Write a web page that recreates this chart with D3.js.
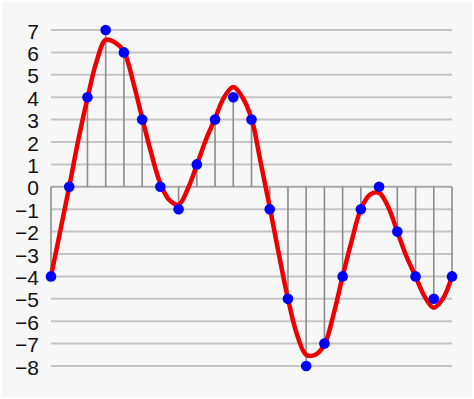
<!DOCTYPE html>
<html>
<head>
<meta charset="utf-8">
<script src="https://cdn.jsdelivr.net/npm/d3@7"></script>
<style>
  html, body { margin: 0; padding: 0; background: #ffffff; }
  svg { display: block; }
</style>
</head>
<body>
<svg id="chart" width="474" height="399"></svg>
<script>
// Quantized samples (blue dots + stems)
const sampleValues = [-4, 0, 4, 7, 6, 3, 0, -1, 1, 3, 4, 3, -1, -5, -8, -7, -4, -1, 0, -2, -4, -5, -4];
// Original continuous signal, read at every half sample step (red curve)
const signalPositions = [0,0.5,1,1.5,2,2.5,3,3.5,4,4.5,5,5.5,6,6.5,7,7.5,8,8.5,9,9.5,10,10.5,11,11.5,12,12.5,13,13.5,14,14.5,15,15.5,16,16.5,17,17.5,18,18.5,19,19.5,20,20.5,21,21.5,22];
const signalValues = [-4.0,-2.0,0.0,2.1,3.95,5.6,6.56,6.45,6.04,4.7,3.08,1.5,0.15,-0.6,-0.8,-0.1,0.98,2.1,3.05,4.0,4.45,4.0,3.05,1.1,-0.9,-3.0,-5.0,-6.6,-7.5,-7.5,-7.05,-5.7,-4.0,-2.4,-1.0,-0.35,-0.27,-0.9,-2.0,-3.1,-4.0,-4.9,-5.4,-5.0,-4.0];
const yTicks = [7, 6, 5, 4, 3, 2, 1, 0, -1, -2, -3, -4, -5, -6, -7, -8];

const svg = d3.select("#chart");
svg.append("rect").attr("x", 2).attr("y", 2).attr("width", 470).attr("height", 395).attr("fill", "#f7f7f7");

const x = d3.scaleLinear().domain([0, sampleValues.length - 1]).range([51, 452]);
const y = d3.scaleLinear().domain([-8, 7]).range([366, 30]);

// Gridlines
svg.append("g").selectAll("line").data(yTicks).join("line")
  .attr("x1", x(0)).attr("x2", x(sampleValues.length - 1))
  .attr("y1", d => y(d)).attr("y2", d => y(d))
  .attr("stroke", d => d === 0 ? "#a8a8a8" : "#c4c4c4")
  .attr("stroke-width", 2);

// Y axis labels
const fmt = d => d < 0 ? "\u2212" + Math.abs(d) : String(d);
svg.append("g").selectAll("text").data(yTicks).join("text")
  .attr("x", 39).attr("y", d => y(d) + 1)
  .attr("text-anchor", "end")
  .attr("dominant-baseline", "central")
  .attr("font-family", "Liberation Sans, Arial, sans-serif")
  .attr("font-size", 21)
  .attr("fill", "#111")
  .text(fmt);

// Stems
svg.append("g").selectAll("line").data(sampleValues).join("line")
  .attr("x1", (d, i) => x(i)).attr("x2", (d, i) => x(i))
  .attr("y1", y(0)).attr("y2", d => y(d))
  .attr("stroke", "#8c8c8c")
  .attr("stroke-width", 1.6);

// Signal curve
const line = d3.line()
  .x((d, i) => x(signalPositions[i]))
  .y(d => y(d))
  .curve(d3.curveCatmullRom.alpha(0.5));
svg.append("path").datum(signalValues)
  .attr("d", line)
  .attr("fill", "none")
  .attr("stroke", "#ee0000")
  .attr("stroke-width", 4.5)
  .attr("stroke-linecap", "round");

// Dots
svg.append("g").selectAll("circle").data(sampleValues).join("circle")
  .attr("cx", (d, i) => x(i)).attr("cy", d => y(d))
  .attr("r", 5.3)
  .attr("fill", "#0000ff");
</script>
</body>
</html>
